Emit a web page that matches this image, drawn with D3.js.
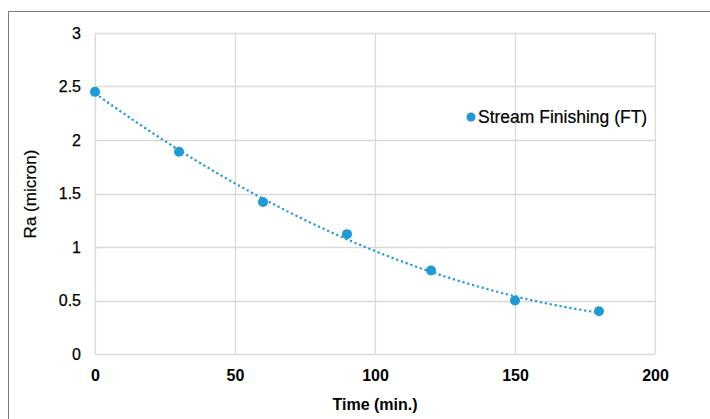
<!DOCTYPE html>
<html><head><meta charset="utf-8">
<script src="https://cdn.jsdelivr.net/npm/d3@7"></script>
<style>body{margin:0;background:#fff}svg{display:block}text{font-family:"Liberation Sans",Arial,sans-serif;fill:#000}</style>
</head><body>
<svg id="c" width="710" height="419"></svg>
<script>
const times = [0, 30, 60, 90, 120, 150, 180];
const ra = [2.45, 1.89, 1.42, 1.12, 0.78, 0.50, 0.40];
const xTicks = [0, 50, 100, 150, 200];
const yTicks = [0, 0.5, 1, 1.5, 2, 2.5, 3];
const seriesName = "Stream Finishing (FT)";
const xTitle = "Time (min.)";
const yTitle = "Ra (micron)";

const svg = d3.select("#c");
const color = "#1e9bd7";
const x = d3.scaleLinear().domain([0, 200]).range([95, 655]);
const y = d3.scaleLinear().domain([0, 3]).range([354, 33]);

// frame
svg.append("path").attr("d", "M8.5,419V11.5H710").attr("fill", "none").attr("stroke", "#7a7a7a").attr("stroke-width", 1);

// gridlines
svg.append("g").selectAll("line").data(yTicks).join("line")
  .attr("x1", x(0)).attr("x2", x(200)).attr("y1", d => Math.round(y(d)) + 0.5).attr("y2", d => Math.round(y(d)) + 0.5)
  .attr("stroke", "#d9d9d9").attr("stroke-width", 1.3);
svg.append("g").selectAll("line").data(xTicks).join("line")
  .attr("y1", y(0)).attr("y2", y(3)).attr("x1", d => Math.round(x(d)) + 0.5).attr("x2", d => Math.round(x(d)) + 0.5)
  .attr("stroke", "#d9d9d9").attr("stroke-width", 1.3);

// axes labels
const yAxis = d3.axisLeft(y).tickValues(yTicks).tickSize(0).tickPadding(14).tickFormat(d3.format("~g"));
const gy = svg.append("g").attr("transform", `translate(${x(0)},0)`).call(yAxis);
gy.select(".domain").remove();
gy.selectAll("text").attr("font-size", 16).attr("font-family", "Liberation Sans, Arial, sans-serif").attr("fill", "#000")
  .attr("stroke", "#000").attr("stroke-width", 0.25);

const xAxis = d3.axisBottom(x).tickValues(xTicks).tickSize(0).tickPadding(16).tickFormat(d3.format("~g"));
const gx = svg.append("g").attr("transform", `translate(0,${y(0)})`).call(xAxis);
gx.select(".domain").remove();
gx.selectAll("text").attr("font-size", 16).attr("font-weight", "bold").attr("font-family", "Liberation Sans, Arial, sans-serif").attr("fill", "#000");

svg.append("text").attr("x", 375).attr("y", 410).attr("text-anchor", "middle")
  .attr("font-size", 16).attr("font-weight", "bold").text(xTitle);
svg.append("text").attr("transform", "translate(36,194) rotate(-90)").attr("text-anchor", "middle")
  .attr("font-size", 17).attr("stroke", "#000").attr("stroke-width", 0.2).text(yTitle);

// polynomial (order 2) trendline fit by least squares
function polyfit(xs, ys) {
  const n = xs.length;
  let s = [0,0,0,0,0], t = [0,0,0];
  for (let i = 0; i < n; i++) {
    for (let k = 0; k < 5; k++) s[k] += Math.pow(xs[i], k);
    for (let k = 0; k < 3; k++) t[k] += ys[i] * Math.pow(xs[i], k);
  }
  const A = [[s[0], s[1], s[2], t[0]], [s[1], s[2], s[3], t[1]], [s[2], s[3], s[4], t[2]]];
  for (let i = 0; i < 3; i++) {
    for (let j = i + 1; j < 3; j++) {
      const f = A[j][i] / A[i][i];
      for (let k = i; k < 4; k++) A[j][k] -= f * A[i][k];
    }
  }
  const c = [0,0,0];
  for (let i = 2; i >= 0; i--) {
    let v = A[i][3];
    for (let k = i + 1; k < 3; k++) v -= A[i][k] * c[k];
    c[i] = v / A[i][i];
  }
  return c;
}
const coef = polyfit(times, ra);
const trend = d3.range(0, 180.001, 2).map(t => [t, coef[0] + coef[1] * t + coef[2] * t * t]);
svg.append("path").datum(trend)
  .attr("d", d3.line().x(d => x(d[0])).y(d => y(d[1])))
  .attr("fill", "none").attr("stroke", color).attr("stroke-width", 2.2).attr("stroke-dasharray", "2.2 2.8");

// points
svg.append("g").selectAll("circle").data(times.map((t, i) => [t, ra[i]])).join("circle")
  .attr("cx", d => x(d[0])).attr("cy", d => y(d[1])).attr("r", 5).attr("fill", color);

// legend
svg.append("circle").attr("cx", 471).attr("cy", 117).attr("r", 4.5).attr("fill", color);
svg.append("text").attr("x", 478).attr("y", 123).attr("font-size", 17.5)
  .attr("stroke", "#000").attr("stroke-width", 0.2).text(seriesName);
</script>
</body></html>
